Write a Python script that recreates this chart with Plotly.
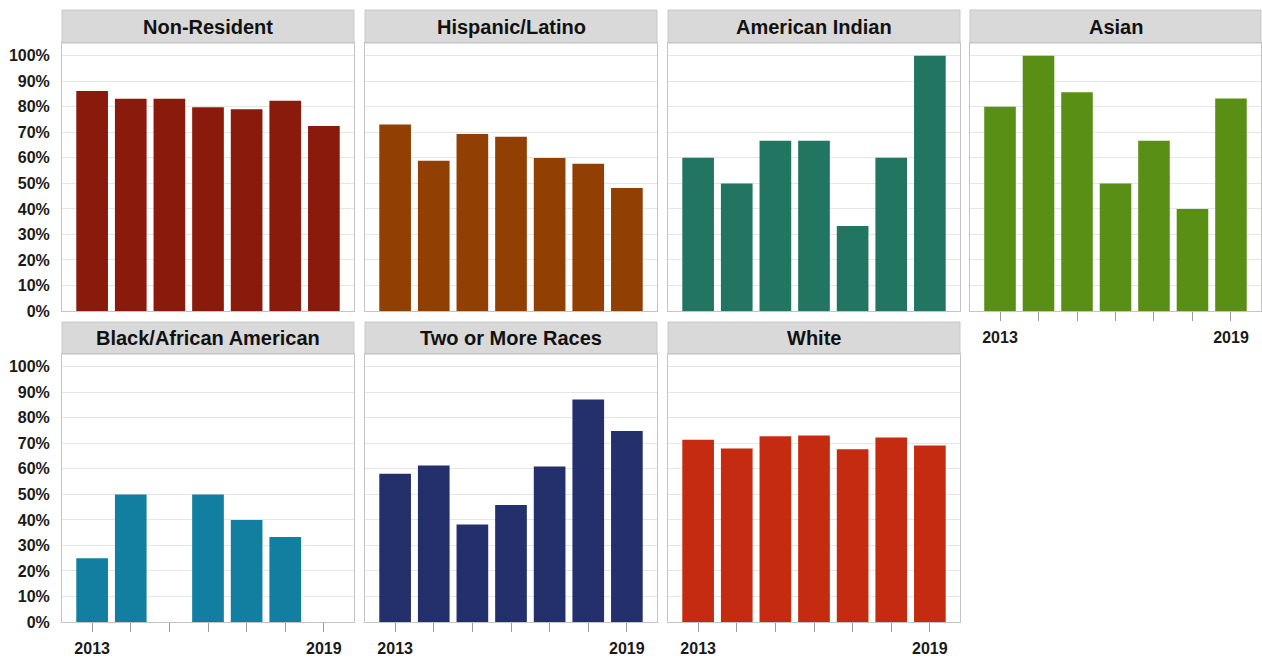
import plotly.graph_objects as go

# ---- data ----
years = [2013, 2014, 2015, 2016, 2017, 2018, 2019]
groups = ["Non-Resident", "Hispanic/Latino", "American Indian", "Asian",
          "Black/African American", "Two or More Races", "White"]
non_resident = [86.2, 83.2, 83.2, 79.8, 79.0, 82.4, 72.5]
hispanic_latino = [73.1, 58.9, 69.3, 68.3, 59.9, 57.7, 48.2]
american_indian = [60.0, 50.0, 66.7, 66.7, 33.3, 60.0, 100.0]
asian = [80.0, 100.0, 85.7, 50.0, 66.7, 40.0, 83.3]
black_african_american = [25.0, 50.0, None, 50.0, 40.0, 33.3, None]
two_or_more_races = [58.1, 61.3, 38.2, 45.8, 60.9, 87.2, 74.8]
white = [71.4, 68.0, 72.8, 73.1, 67.7, 72.3, 69.2]
series = [non_resident, hispanic_latino, american_indian, asian,
          black_african_american, two_or_more_races, white]
colors = ["#8a1b0c", "#913f02", "#227561", "#5a8f16", "#127ea0", "#23306b", "#c42b10"]
y_tick_vals = [0, 10, 20, 30, 40, 50, 60, 70, 80, 90, 100]
y_tick_text = [f"{v}%" for v in y_tick_vals]
x_tick_text = ["2013", "", "", "", "", "", "2019"]

# ---- layout geometry (pixels) ----
W, H = 1262, 660
col_px = [(62, 354), (365, 657), (668, 960), (970, 1261)]
row_px = [(43, 311), (354, 622)]
strip_px = [(10, 43), (322, 354)]

def px_x(v):
    return v / W

def px_y(v):
    return 1 - v / H

FONT = "Liberation Sans, Arial, sans-serif"

fig = go.Figure()
shapes = []
annotations = []
layout_axes = {}

for i, (name, vals, col) in enumerate(zip(groups, series, colors)):
    r, c = divmod(i, 4)
    n = i + 1
    xa = "x" if n == 1 else f"x{n}"
    ya = "y" if n == 1 else f"y{n}"
    fig.add_trace(go.Bar(x=years, y=vals, marker=dict(color=col, line=dict(width=0)),
                         xaxis=xa, yaxis=ya, showlegend=False, width=0.82,
                         hovertemplate="%{x}: %{y:.1f}%<extra>" + name + "</extra>"))
    x0, x1 = col_px[c]
    y0, y1 = row_px[r]
    show_x = (i >= 3)
    layout_axes["xaxis" if n == 1 else f"xaxis{n}"] = dict(
        domain=[px_x(x0), px_x(x1)], anchor=ya, range=[2012.22, 2019.78],
        tickvals=years, ticktext=x_tick_text, showticklabels=show_x,
        ticks="outside" if show_x else "", ticklen=9, tickcolor="#9a9a9a", tickwidth=1,
        ticklabelstandoff=3, automargin=False,
        tickfont=dict(family=FONT, size=16, color="#1a1a1a", weight="bold"),
        showline=True, linecolor="#c4c4c4", linewidth=1, mirror=True,
        showgrid=False, zeroline=False, fixedrange=True)
    layout_axes["yaxis" if n == 1 else f"yaxis{n}"] = dict(
        domain=[px_y(y1), px_y(y0)], anchor=xa, range=[0, 105],
        tickvals=y_tick_vals, ticktext=y_tick_text, showticklabels=(c == 0),
        ticks="", ticklabelstandoff=8, automargin=False,
        tickfont=dict(family=FONT, size=16, color="#1a1a1a", weight="bold"),
        showline=True, linecolor="#c4c4c4", linewidth=1, mirror=True,
        showgrid=True, gridcolor="#e6e6e6", gridwidth=1, zeroline=False, fixedrange=True)
    s0, s1 = strip_px[r]
    shapes.append(dict(type="rect", xref="paper", yref="paper",
                       x0=px_x(x0), x1=px_x(x1), y0=px_y(s1), y1=px_y(s0),
                       fillcolor="#d9d9d9", line=dict(color="#c8c8c8", width=1), layer="below"))
    annotations.append(dict(text=name, xref="paper", yref="paper",
                            x=px_x((x0 + x1) / 2), y=px_y((s0 + s1) / 2),
                            xanchor="center", yanchor="middle", showarrow=False,
                            font=dict(family=FONT, size=20, color="#111111", weight="bold")))

fig.update_layout(**layout_axes)
fig.update_layout(width=W, height=H, margin=dict(l=0, r=0, t=0, b=0, autoexpand=False),
                  paper_bgcolor="white", plot_bgcolor="white", bargap=0.18,
                  shapes=shapes, annotations=annotations, showlegend=False)

post = (
    "document.documentElement.style.margin='0';"
    "document.body.style.margin='0';"
    "document.body.style.overflow='hidden';"
)
fig.write_html("out.html", config={"displayModeBar": False}, post_script=post)
